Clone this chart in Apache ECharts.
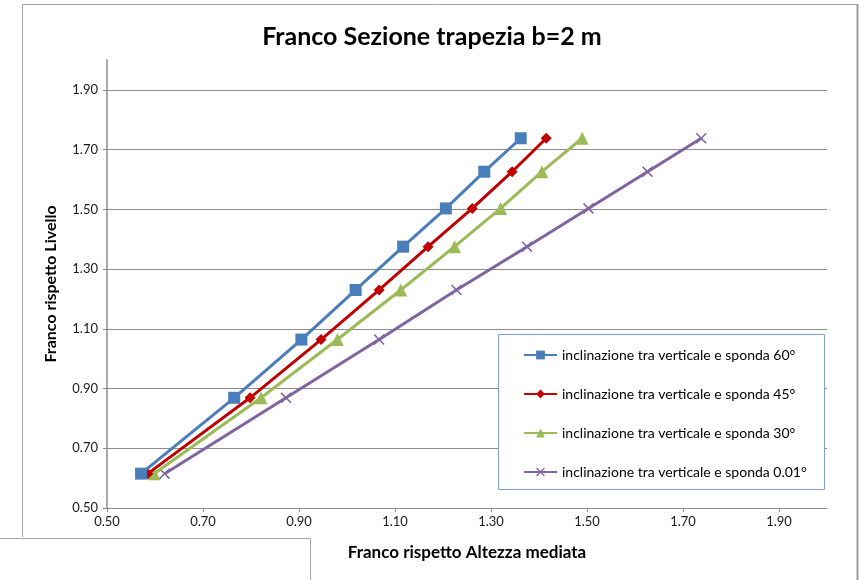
<!DOCTYPE html>
<html>
<head>
<meta charset="utf-8">
<script src="https://cdn.jsdelivr.net/npm/echarts@6/dist/echarts.min.js"></script>
<style>
html,body{margin:0;padding:0;background:#fff;}
#chart{width:864px;height:580px;}
</style>
</head>
<body>
<div id="chart"></div>
<script>
// ---- data ----
var titleText = 'Franco Sezione trapezia b=2 m';
var xAxisName = 'Franco rispetto Altezza mediata';
var yAxisName = 'Franco rispetto Livello';
var seriesNames = [
  'inclinazione tra verticale e sponda 60°',
  'inclinazione tra verticale e sponda 45°',
  'inclinazione tra verticale e sponda 30°',
  'inclinazione tra verticale e sponda 0.01°'
];
var yValues = [0.615, 0.869, 1.064, 1.230, 1.375, 1.503, 1.626, 1.738];
var x60  = [0.571, 0.765, 0.905, 1.018, 1.117, 1.206, 1.286, 1.362];
var x45  = [0.585, 0.798, 0.946, 1.067, 1.169, 1.261, 1.344, 1.415];
var x30  = [0.598, 0.821, 0.980, 1.112, 1.224, 1.320, 1.406, 1.490];
var x001 = [0.620, 0.873, 1.067, 1.228, 1.375, 1.503, 1.626, 1.738];
var xTicks = [0.5, 0.7, 0.9, 1.1, 1.3, 1.5, 1.7, 1.9];
var yTicks = [0.5, 0.7, 0.9, 1.1, 1.3, 1.5, 1.7, 1.9];

// ---- styling ----
var FONT = 'Lato';
var colors = ['#4A7EBB', '#C00000', '#9BBB59', '#8064A2'];
var symbols = ['rect', 'diamond', 'triangle',
  'path://M0,1L1,0L5,4L9,0L10,1L6,5L10,9L9,10L5,6L1,10L0,9L4,5Z'];
var symbolSizes = [12, 11, 13, 11];
var xSets = [x60, x45, x30, x001];

function pairs(xs, ys) {
  var out = [];
  for (var i = 0; i < xs.length; i++) out.push([xs[i], ys[i]]);
  return out;
}

var series = xSets.map(function (xs, i) {
  return {
    name: seriesNames[i],
    type: 'line',
    data: pairs(xs, yValues),
    symbol: symbols[i],
    symbolSize: symbolSizes[i],
    showAllSymbol: true,
    lineStyle: { color: colors[i], width: 3 },
    itemStyle: { color: colors[i] },
    emphasis: { disabled: true },
    animation: false,
    z: 10 - i
  };
});

var gray = '#8C8C8C';
var chart = echarts.init(document.getElementById('chart'), null, { renderer: 'canvas' });
chart.setOption({
  animation: false,
  backgroundColor: '#ffffff',
  title: {
    text: titleText,
    left: 'center',
    top: 19,
    textStyle: { fontFamily: FONT, fontWeight: 'bold', fontSize: 25, color: '#000' }
  },
  grid: { left: 107, top: 60, right: 37, bottom: 72, containLabel: false },
  xAxis: {
    type: 'value',
    min: 0.5, max: 2.0,
    name: xAxisName,
    nameLocation: 'middle',
    nameGap: 36,
    nameTextStyle: { fontFamily: FONT, fontWeight: 'bold', fontSize: 17, color: '#000' },
    axisLine: { show: true, lineStyle: { color: gray, width: 1 } },
    axisTick: { show: true, length: 4, lineStyle: { color: gray }, customValues: xTicks },
    axisLabel: {
      customValues: xTicks,
      margin: 7,
      fontFamily: FONT, fontSize: 13, color: '#1a1a1a',
      formatter: function (v) { return Number(v).toFixed(2); }
    },
    splitLine: { show: false }
  },
  yAxis: {
    type: 'value',
    min: 0.5, max: 2.0,
    name: yAxisName,
    nameLocation: 'middle',
    nameGap: 48,
    nameTextStyle: { fontFamily: FONT, fontWeight: 'bold', fontSize: 16, color: '#000' },
    axisLine: { show: true, lineStyle: { color: gray, width: 1.5 } },
    axisTick: { show: true, length: 4, lineStyle: { color: gray }, customValues: yTicks },
    axisLabel: {
      customValues: yTicks,
      margin: 9,
      fontFamily: FONT, fontSize: 13, color: '#1a1a1a',
      formatter: function (v) { return Number(v).toFixed(2); }
    },
    splitLine: { show: true, lineStyle: { color: gray, width: 1 } }
  },
  legend: {
    orient: 'vertical',
    left: 518,
    top: 343,
    z: 20,
    itemWidth: 33,
    itemHeight: 11,
    itemGap: 25,
    textStyle: { fontFamily: FONT, fontSize: 14, color: '#000' },
    data: seriesNames,
    selectedMode: false
  },
  graphic: [
    { type: 'rect', shape: { x: 498.5, y: 334.5, width: 326, height: 155 },
      style: { fill: '#fff', stroke: '#7EA0CF', lineWidth: 1 }, z: 3, zlevel: 0 },
    { type: 'polyline', shape: { points: [[22.5, 537], [22.5, 4.5], [857, 4.5]] },
      style: { stroke: '#A6A6A6', lineWidth: 1, fill: null }, silent: true },
    { type: 'line', shape: { x1: 857.5, y1: 4, x2: 857.5, y2: 580 },
      style: { stroke: '#9A9A9A', lineWidth: 2 }, silent: true },
    { type: 'polyline', shape: { points: [[0, 538.5], [310.5, 538.5], [310.5, 580]] },
      style: { stroke: '#A6A6A6', lineWidth: 1, fill: null }, silent: true }
  ],
  series: series
});
</script>
</body>
</html>
